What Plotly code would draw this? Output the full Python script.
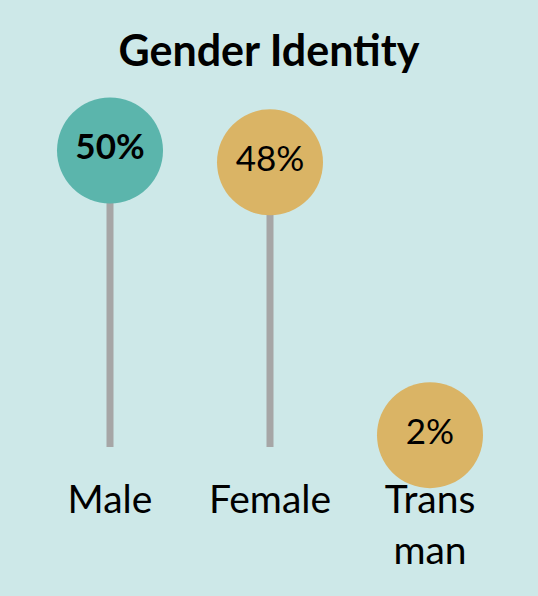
import plotly.graph_objects as go

categories = ["Male", "Female", "Trans<br>man"]
values = [50, 48, 2]
labels = ["<b>50%</b>", "48%", "2%"]
colors = ["#5BB5AC", "#DAB465", "#DAB465"]

xs = list(range(len(categories)))

stem_x, stem_y = [], []
for x, v in zip(xs, values):
    stem_x += [x, x, None]
    stem_y += [0, v, None]

fig = go.Figure()
fig.add_trace(go.Scatter(
    x=stem_x, y=stem_y, mode="lines",
    line=dict(color="#A6A6A6", width=7),
    hoverinfo="skip", cliponaxis=False, showlegend=False,
))
fig.add_trace(go.Scatter(
    x=xs, y=values, mode="markers+text",
    marker=dict(size=106, color=colors, line=dict(width=0), opacity=1),
    text=labels, textposition="middle center",
    textfont=dict(family="Lato", size=35, color="black"),
    cliponaxis=False, showlegend=False,
))

fig.update_layout(
    width=538, height=596,
    margin=dict(l=30, r=28, t=60, b=136),
    paper_bgcolor="#CDE8E8", plot_bgcolor="#CDE8E8",
    title=dict(text="<b>Gender Identity</b>", x=0.5, xanchor="center",
               y=1-51/596, yanchor="middle",
               font=dict(family="Lato", size=43, color="black")),
    font=dict(family="Lato", color="black"),
    xaxis=dict(range=[-0.5, 2.5], tickvals=xs, ticktext=categories,
               showgrid=False, zeroline=False, showline=False, ticks="",
               tickfont=dict(family="Lato", size=39, color="black"),
               ticklabelstandoff=13, fixedrange=True),
    yaxis=dict(range=[-2.19, 65.26], visible=False, showgrid=False,
               zeroline=False, fixedrange=True),
)

fig.write_html("out.html", config={"displayModeBar": False},
               post_script="document.body.style.margin='0';document.body.style.overflow='hidden';")
